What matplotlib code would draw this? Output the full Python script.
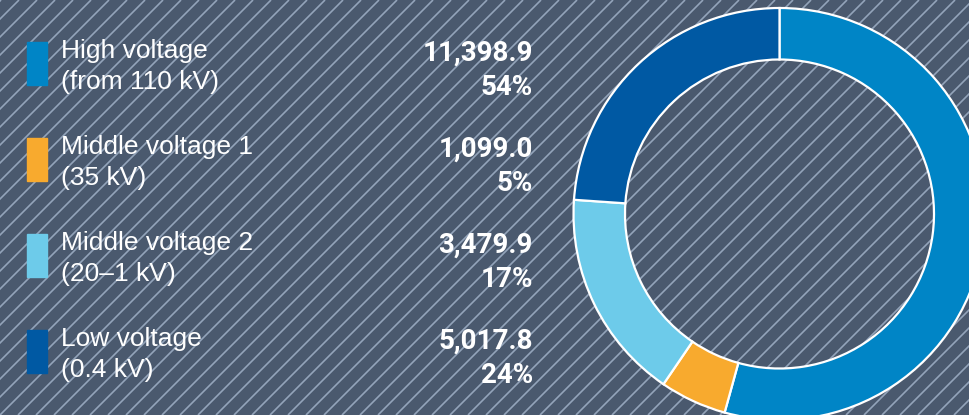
# Electricity transmission by voltage level: legend block + donut chart.

import numpy as np
import matplotlib.pyplot as plt

labels = ["High voltage", "Middle voltage 1", "Middle voltage 2", "Low voltage"]
sublabels = ["(from 110 kV)", "(35 kV)", "(20\u20131 kV)", "(0.4 kV)"]
values = [11398.9, 1099.0, 3479.9, 5017.8]
value_text = ["11,398.9", "1,099.0", "3,479.9", "5,017.8"]
pct_text = ["54%", "5%", "17%", "24%"]
colors = ["#0085c6", "#f8aa2e", "#6dcbea", "#0059a3"]

W, H, DPI = 969, 415, 100
BG = "#4a596e"
HATCH = "#93a4ba"

fig = plt.figure(figsize=(W / DPI, H / DPI), dpi=DPI, facecolor=BG)

# background axes in pixel coordinates (y down)
bg = fig.add_axes([0, 0, 1, 1])
bg.set_xlim(0, W); bg.set_ylim(H, 0)
bg.axis("off")
bg.set_facecolor(BG)

# diagonal hatch lines "/"
step = 18
for c in np.arange(1 - H, W + H, step):
    bg.plot([c, c + H], [H, 0], color=HATCH, lw=1.2, solid_capstyle="butt", zorder=0)

# legend rows
row_top = [42, 138, 234, 330]
for i in range(4):
    y0 = row_top[i]
    bg.add_patch(plt.Rectangle((27, y0), 20, 43, color=colors[i], zorder=2))
    bg.text(61, y0 + 16, labels[i], color="white", fontsize=19,
            family="Liberation Sans", va="baseline", ha="left", zorder=3)
    bg.text(61, y0 + 47, sublabels[i], color="white", fontsize=19,
            family="Liberation Sans", va="baseline", ha="left", zorder=3)
    bg.text(533, y0 + 19, value_text[i], color="white", fontsize=20,
            family="Roboto", weight="bold", va="baseline", ha="right", zorder=3)
    bg.text(533, y0 + 53, pct_text[i], color="white", fontsize=20,
            family="Roboto", weight="bold", va="baseline", ha="right", zorder=3)

# donut axes: centre (779.5, 214) px from top-left, outer radius 206 px
cx, cy, r = 779.5, H - 214, 206
ax = fig.add_axes([(cx - r) / W, (cy - r) / H, 2 * r / W, 2 * r / H])
ax.pie(values, colors=colors, startangle=90, counterclock=False,
       wedgeprops=dict(width=0.25, edgecolor="white", linewidth=1.6))
ax.set_xlim(-1, 1); ax.set_ylim(-1, 1)
ax.set_aspect("equal")
ax.axis("off")

fig.savefig("out.png", dpi=DPI, facecolor=BG)
